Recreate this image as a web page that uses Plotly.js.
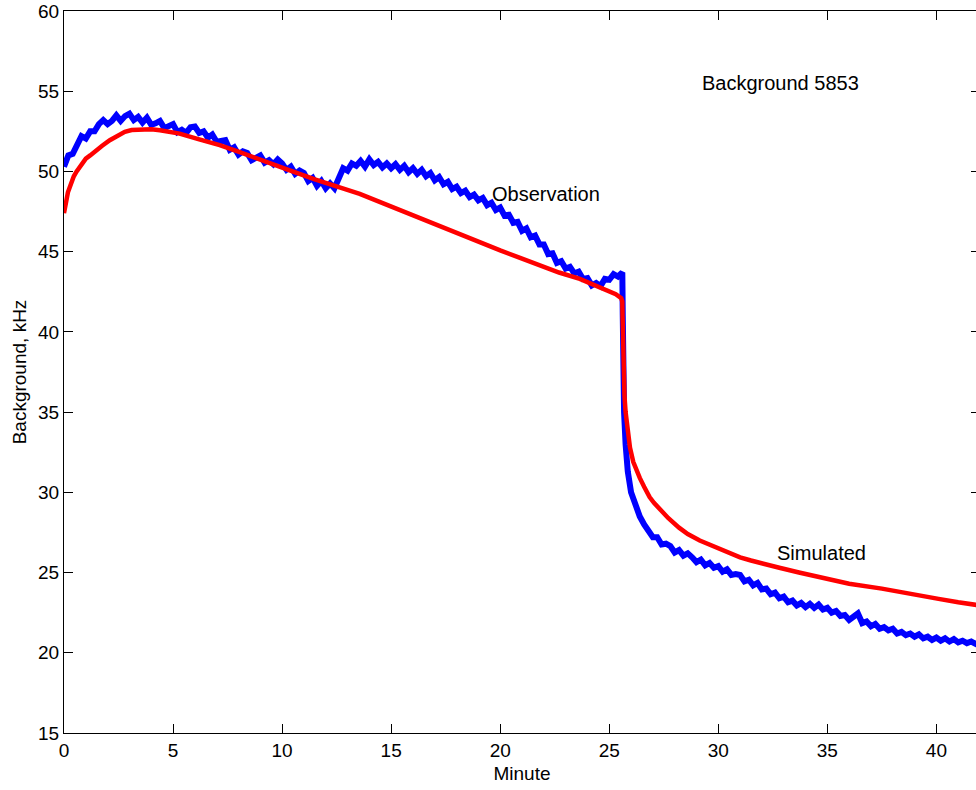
<!DOCTYPE html>
<html>
<head>
<meta charset="utf-8">
<script src="https://cdn.plot.ly/plotly-3.0.1.min.js"></script>
<style>
html, body { margin: 0; padding: 0; overflow: hidden; background: #fff; }
#chart { width: 984px; height: 790px; }
</style>
</head>
<body>
<div id="chart"></div>
<script>
// Observation (blue) series
var obsX = [0.0,0.2,0.4,0.6,0.8,1.0,1.2,1.4,1.6,1.8,2.0,2.2,2.4,2.6,2.8,3.0,3.2,3.4,3.6,3.8,
  4.0,4.2,4.4,4.6,4.8,5.0,5.2,5.4,5.6,5.8,6.0,6.2,6.4,6.6,6.8,7.0,7.2,7.4,7.6,7.8,
  8.0,8.2,8.4,8.6,8.8,9.0,9.2,9.4,9.6,9.8,10.0,10.2,10.4,10.6,10.8,11.0,11.2,11.4,11.6,11.8,
  12.0,12.2,12.4,12.6,12.8,13.0,13.2,13.4,13.6,13.8,14.0,14.2,14.4,14.6,14.8,15.0,15.2,15.4,15.6,15.8,
  16.0,16.2,16.4,16.6,16.8,17.0,17.2,17.4,17.6,17.8,18.0,18.2,18.4,18.6,18.8,19.0,19.2,19.4,19.6,19.8,
  20.0,20.2,20.4,20.6,20.8,21.0,21.2,21.4,21.6,21.8,22.0,22.2,22.4,22.6,22.8,23.0,23.2,23.4,23.6,23.8,
  24.0,24.2,24.4,24.6,24.8,25.0,25.2,25.4,25.6,
  25.62,25.64,25.68,25.75,25.85,26.0,26.2,26.4,26.6,26.8,27.0,27.2,27.4,27.6,27.8,
  28.0,28.2,28.4,28.6,28.8,29.0,29.2,29.4,29.6,29.8,30.0,30.2,30.4,30.6,30.8,31.0,31.2,31.4,31.6,31.8,
  32.0,32.2,32.4,32.6,32.8,33.0,33.2,33.4,33.6,33.8,34.0,34.2,34.4,34.6,34.8,35.0,35.2,35.4,35.6,35.8,
  36.0,36.2,36.4,36.6,36.8,37.0,37.2,37.4,37.6,37.8,38.0,38.2,38.4,38.6,38.8,39.0,39.2,39.4,39.6,39.8,
  40.0,40.2,40.4,40.6,40.8,41.0,41.2,41.4,41.6,41.8,42.0];
var obsY = [50.3,51.0,51.1,51.75,52.2,52.05,52.5,52.5,52.95,53.2,52.95,53.15,53.5,53.15,53.45,53.6,53.2,53.4,53.05,53.35,
  52.9,53.0,53.15,52.7,52.85,52.95,52.45,52.6,52.4,52.75,52.8,52.4,52.5,52.1,52.3,51.85,51.9,51.95,51.35,51.5,
  51.05,51.25,51.15,50.7,50.85,51.0,50.55,50.7,50.45,50.75,50.5,50.1,50.3,49.85,50.05,49.9,49.4,49.6,49.1,49.4,
  48.95,49.25,48.95,49.7,50.2,50.05,50.5,50.35,50.65,50.3,50.75,50.4,50.6,50.25,50.5,50.2,50.45,50.1,50.35,49.95,
  50.2,49.85,50.1,49.7,49.9,49.45,49.65,49.2,49.35,48.9,49.05,48.65,48.8,48.4,48.55,48.2,48.35,47.9,48.05,47.6,
  47.75,47.25,47.3,46.8,46.85,46.3,46.45,45.9,46.0,45.45,45.45,44.85,44.9,44.3,44.4,43.95,44.05,43.65,43.75,43.3,
  43.35,42.9,43.05,42.85,43.3,43.25,43.6,43.45,43.7,
  41.0,37.5,35.0,33.0,31.3,30.0,29.1,28.5,28.0,27.65,27.2,27.2,26.75,26.8,26.65,
  26.25,26.4,26.05,26.2,25.95,25.65,25.8,25.45,25.6,25.3,25.4,25.05,25.2,24.85,24.9,24.85,24.45,24.55,24.2,24.35,
  23.95,24.0,23.65,23.75,23.4,23.5,23.15,23.25,22.95,23.1,22.85,23.05,22.8,23.0,22.7,22.8,22.5,22.6,22.3,22.35,
  22.05,22.2,22.45,21.85,21.95,21.65,21.8,21.5,21.6,21.4,21.5,21.2,21.3,21.1,21.2,21.0,21.15,20.9,21.0,20.8,
  20.95,20.75,20.9,20.7,20.85,20.65,20.75,20.6,20.7,20.55,20.7];

// Simulated (red) series
var simX = [0,0.05,0.1,0.18,0.26,0.35,0.45,0.58,0.72,0.85,1.0,1.2,1.41,1.75,2.1,2.45,2.79,3.1,3.48,4.0,
  4.4,5.3,6.2,7.14,8.06,8.74,9.5,10.35,11.5,12.64,13.56,14.47,15.4,16.3,17.22,18.15,19.06,20.0,20.9,21.8,
  22.7,23.65,24.1,24.55,25.0,25.3,25.55,25.6,25.61,25.62,25.63,25.65,25.7,25.75,25.8,25.85,25.95,26.1,26.25,26.4,
  26.6,26.85,27.05,27.3,27.7,28.2,28.6,29.15,29.6,30.0,30.5,31.0,31.5,32.0,32.8,33.7,34.65,36.0,37.5,39.0,
  40.1,41.0,42.0];
var simY = [47.4,47.9,48.3,48.7,49.0,49.35,49.7,50.0,50.3,50.55,50.8,51.0,51.2,51.6,51.95,52.25,52.47,52.58,52.63,52.63,
  52.57,52.36,52.0,51.64,51.2,50.85,50.45,50.07,49.5,49.0,48.6,48.1,47.6,47.15,46.64,46.12,45.6,45.08,44.6,44.14,
  43.7,43.3,43.05,42.8,42.55,42.35,42.1,41.9,41.0,40.0,38.7,37.5,36.0,35.0,34.3,33.8,32.8,31.9,31.35,30.9,
  30.35,29.7,29.35,29.0,28.4,27.8,27.4,27.0,26.75,26.5,26.2,25.95,25.75,25.55,25.3,25.0,24.7,24.3,24.0,23.6,
  23.36,23.15,22.95];

var xTicks = [0,5,10,15,20,25,30,35,40];
var yTicks = [15,20,25,30,35,40,45,50,55,60];

var labelTexts = ['Background 5853','Observation','Simulated'];
var labelX = [29.15, 19.55, 32.62];
var labelY = [55.5, 48.58, 26.23];

var traces = [
  {x: obsX, y: obsY, type: 'scatter', mode: 'lines', name: 'Observation',
   line: {color: '#0000ff', width: 6}},
  {x: simX, y: simY, type: 'scatter', mode: 'lines', name: 'Simulated',
   line: {color: '#ff0000', width: 4.5}}
];

var fontFam = 'Liberation Sans, Arial, Helvetica, sans-serif';
var axisCommon = {
  showline: true, linecolor: '#000', linewidth: 1, mirror: 'ticks',
  ticks: 'inside', ticklen: 9, tickwidth: 1, tickcolor: '#000',
  showgrid: false, zeroline: false,
  tickfont: {family: fontFam, size: 19, color: '#000'}
};

var layout = {
  width: 984, height: 790,
  margin: {l: 64, r: 4, t: 11, b: 57},
  paper_bgcolor: '#fff', plot_bgcolor: '#fff',
  showlegend: false,
  xaxis: Object.assign({}, axisCommon, {
    range: [0, 42], tickvals: xTicks, ticktext: xTicks.map(String),
    title: {text: 'Minute', font: {family: fontFam, size: 19, color: '#000'}, standoff: 6}
  }),
  yaxis: Object.assign({}, axisCommon, {
    range: [15, 60], tickvals: yTicks, ticktext: yTicks.map(String),
    title: {text: 'Background, kHz', font: {family: fontFam, size: 19, color: '#000'}, standoff: 6}
  }),
  annotations: labelTexts.map(function(t, i) {
    return {text: t, x: labelX[i], y: labelY[i], xref: 'x', yref: 'y',
      xanchor: 'left', yanchor: 'middle', showarrow: false,
      font: {family: fontFam, size: 20, color: '#000'}};
  })
};

Plotly.newPlot('chart', traces, layout, {displayModeBar: false, staticPlot: true});
</script>
</body>
</html>
